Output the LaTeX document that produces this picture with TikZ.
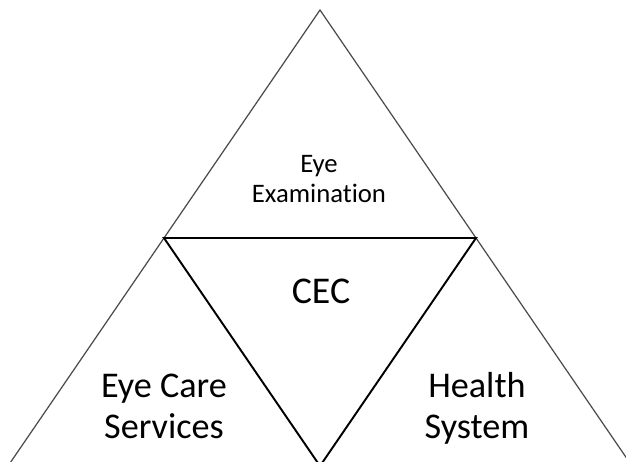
\documentclass[tikz,border=0pt]{standalone}
\usepackage{fontspec}
\setmainfont[Ligatures=NoCommon]{Carlito}
\usetikzlibrary{calc}

\tikzset{
  small label/.style={font=\fontsize{15.2}{16.8}\selectfont, align=center, inner sep=0pt},
  big label/.style={font=\fontsize{20.6}{23.3}\selectfont, align=center, inner sep=0pt},
  outer edge/.style={draw=black!70, line width=0.7pt},
  inner edge/.style={draw=black, line width=1.1pt},
}

\begin{document}
\begin{tikzpicture}[x=0.02cm,y=-0.02cm]
        \useasboundingbox (0,0) rectangle (626,461);
        \clip (0,0) rectangle (626,461);

        % big triangle, its base lies just below the frame
        \coordinate (top) at (320,10);
        \coordinate (botleft) at (8,466);
        \coordinate (botright) at (632,466);
        % inner triangle through the midpoints
        \coordinate (midleft) at ($(top)!0.5!(botleft)$);
        \coordinate (midright) at ($(top)!0.5!(botright)$);
        \coordinate (midbot) at ($(botleft)!0.5!(botright)$);

        \draw[outer edge] (botleft) -- (top) -- (botright);
        \draw[inner edge] (midleft) -- (midright) -- (midbot) -- cycle;

        % anchor=base sits on the last line
        \node[small label, anchor=base] (exam) at (319,202) {Eye\\Examination};
        \node[big label, anchor=base, font=\fontsize{21.5}{23.3}\selectfont] (cec) at (321,303) {CEC};
        \node[big label, anchor=base] (care) at (164,438) {Eye Care\\Services};
        \node[big label, anchor=base] (health) at (477,438) {Health\\System};
\end{tikzpicture}
\end{document}
